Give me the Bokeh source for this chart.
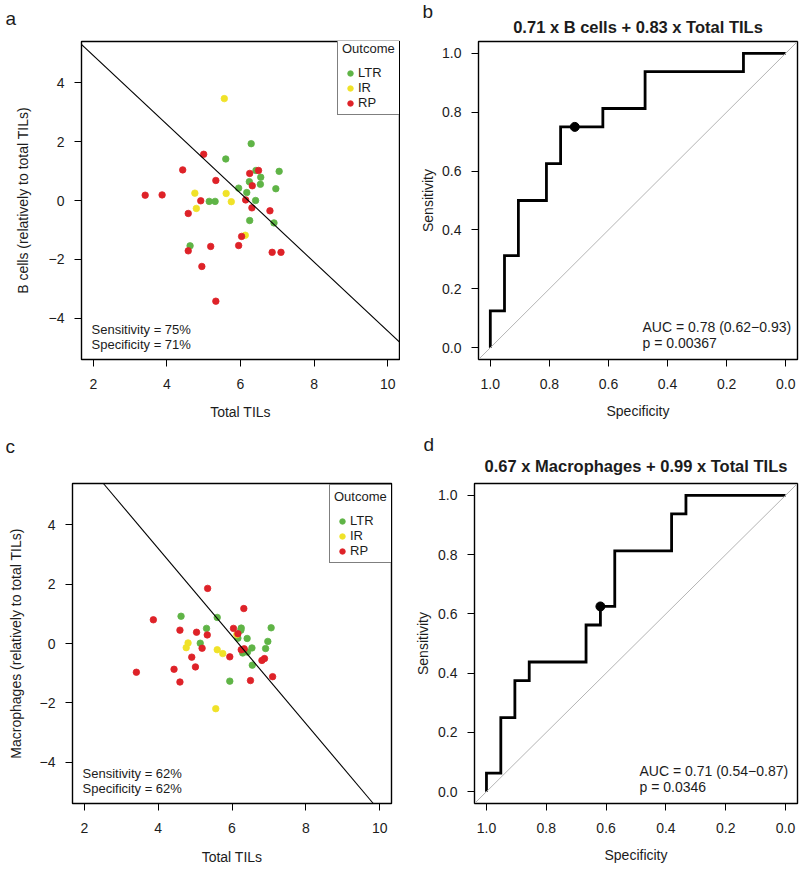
from bokeh.plotting import figure
from bokeh.models import Range1d, FixedTicker, PrintfTickFormatter, Slope, Label, Legend, LegendItem, Title
from bokeh.layouts import column, row
from bokeh.embed import file_html
from bokeh.resources import INLINE

# ---------------- data ----------------
# Panel a: Total TILs vs B cells (relative to total TILs)
a_ltr_x = [6.29, 5.60, 6.42, 7.05, 6.55, 6.24, 6.54, 5.95, 6.96, 6.17, 5.15, 5.31, 6.41, 6.25, 6.91, 4.63]
a_ltr_y = [1.93, 1.41, 1.02, 0.99, 0.79, 0.64, 0.55, 0.42, 0.40, 0.27, -0.03, -0.03, 0.00, -0.68, -0.76, -1.54]
a_ir_x = [5.56, 4.76, 5.61, 5.75, 4.80, 6.13]
a_ir_y = [3.46, 0.25, 0.24, -0.04, -0.27, -1.18]
a_rp_x = [5.00, 4.43, 6.49, 6.25, 5.33, 6.32, 4.92, 6.14, 6.31, 6.80, 4.58, 6.03, 5.95, 5.19, 3.41, 3.87, 4.58, 6.86, 7.10, 4.95, 5.33]
a_rp_y = [1.57, 1.04, 1.02, 0.92, 0.68, 0.50, -0.01, 0.02, -0.25, -0.35, -0.44, -1.22, -1.53, -1.56, 0.18, 0.19, -1.71, -1.76, -1.76, -2.24, -3.42]

# Panel c: Total TILs vs Macrophages (relative to total TILs)
c_ltr_x = [4.62, 5.60, 5.31, 6.25, 6.24, 7.06, 6.16, 6.41, 6.97, 5.14, 6.54, 6.91, 6.29, 6.42, 6.55, 5.94]
c_ltr_y = [0.92, 0.88, 0.51, 0.52, 0.45, 0.53, 0.18, 0.17, 0.07, 0.01, -0.15, -0.17, -0.32, -0.29, -0.73, -1.27]
c_ir_x = [4.81, 4.76, 5.60, 5.75, 6.13, 5.56]
c_ir_y = [0.02, -0.14, -0.21, -0.34, 0.30, -2.20]
c_rp_x = [5.34, 6.32, 3.87, 4.59, 5.04, 5.33, 6.04, 6.16, 5.19, 6.25, 6.33, 5.94, 4.91, 6.81, 6.88, 5.01, 4.43, 4.59, 6.50, 7.10, 3.41]
c_rp_y = [1.86, 1.18, 0.80, 0.45, 0.38, 0.29, 0.51, 0.33, -0.16, -0.21, -0.18, -0.45, -0.46, -0.57, -0.51, -0.79, -0.87, -1.30, -1.25, -1.12, -0.97]

# Linear combinations (coef on y variable, coef on Total TILs, cutoff)
a_coef = [0.71, 0.83]
a_cutoff = 5.155
c_coef = [0.67, 0.99]
c_cutoff = 6.11

# ROC curves (specificity, sensitivity)
b_spec = [1.0, 1.0, 0.952, 0.952, 0.905, 0.905, 0.810, 0.810, 0.762, 0.762, 0.619, 0.619, 0.476, 0.476, 0.143, 0.143, 0.0]
b_sens = [0.0, 0.125, 0.125, 0.3125, 0.3125, 0.5, 0.5, 0.625, 0.625, 0.75, 0.75, 0.8125, 0.8125, 0.9375, 0.9375, 1.0, 1.0]
b_best = [0.714, 0.75]
d_spec = [1.0, 1.0, 0.952, 0.952, 0.905, 0.905, 0.857, 0.857, 0.667, 0.667, 0.619, 0.619, 0.571, 0.571, 0.381, 0.381, 0.333, 0.333, 0.0]
d_sens = [0.0, 0.0625, 0.0625, 0.25, 0.25, 0.375, 0.375, 0.4375, 0.4375, 0.5625, 0.5625, 0.625, 0.625, 0.8125, 0.8125, 0.9375, 0.9375, 1.0, 1.0]
d_best = [0.619, 0.625]

scatter_ticks = [2, 4, 6, 8, 10]
scatter_yticks = [-4, -2, 0, 2, 4]
roc_ticks = [0.0, 0.2, 0.4, 0.6, 0.8, 1.0]

outcomes = ["LTR", "IR", "RP"]
colors = ["#5FB446", "#F0E228", "#DE2228"]

FONT = "Liberation Sans"
TXT = "#1c1c1c"


def make_fig(width, height, left, right, top, bottom, xr, yr):
    p = figure(width=width, height=height,
               min_border_left=left, min_border_right=right,
               min_border_top=top, min_border_bottom=bottom,
               x_range=Range1d(*xr), y_range=Range1d(*yr),
               output_backend="svg", toolbar_location=None, tools="")
    p.xgrid.visible = False
    p.ygrid.visible = False
    p.outline_line_color = "black"
    p.outline_line_width = 1.4
    p.outline_line_alpha = 1.0
    p.background_fill_color = "white"
    p.border_fill_color = "white"
    for ax in (p.xaxis[0], p.yaxis[0]):
        ax.axis_line_color = None
        ax.major_tick_line_color = "black"
        ax.major_tick_line_width = 1
        ax.major_tick_out = 7
        ax.major_tick_in = 0
        ax.minor_tick_line_color = None
        ax.major_label_text_font = FONT
        ax.major_label_text_font_size = "14px"
        ax.major_label_text_color = TXT
        ax.axis_label_text_font = FONT
        ax.axis_label_text_font_size = "14px"
        ax.axis_label_text_font_style = "normal"
        ax.axis_label_text_color = TXT
    p.xaxis[0].major_label_standoff = 12
    p.yaxis[0].major_label_standoff = 10
    return p


def style_title(t, text, size, bold, align, offset, standoff):
    t.text = text
    t.text_font = FONT
    t.text_font_size = size
    t.text_font_style = "bold" if bold else "normal"
    t.text_color = TXT
    t.align = align
    t.offset = offset
    t.standoff = standoff


def add_text(p, x, y, text, size="13px"):
    p.add_layout(Label(x=x, y=y, x_units="screen", y_units="screen", text=text,
                       text_font=FONT, text_font_size=size,
                       text_color=TXT, text_baseline="middle", text_align="left"))


def scatter_panel(dims, xs, ys, coef, cutoff, ylab, sens_txt, spec_txt,
                  letter, letter_off, spacer_standoff, ylab_standoff, xlab_standoff, legend_loc):
    p = make_fig(*dims, (1.68, 10.32), (-5.4, 5.4))
    # panel letter is the outer title; an empty spacer title sits between it and the frame
    style_title(p.title, letter, "19px", False, "left", letter_off, 0)
    sp = Title()
    style_title(sp, " ", "6px", False, "left", 0, spacer_standoff)
    p.add_layout(sp, "above")
    p.xaxis[0].ticker = FixedTicker(ticks=scatter_ticks)
    p.yaxis[0].ticker = FixedTicker(ticks=scatter_yticks)
    p.xaxis[0].axis_label = "Total TILs"
    p.yaxis[0].axis_label = ylab
    p.yaxis[0].axis_label_standoff = ylab_standoff
    p.xaxis[0].axis_label_standoff = xlab_standoff
    p.add_layout(Slope(gradient=-coef[1] / coef[0], y_intercept=cutoff / coef[0],
                       line_color="black", line_width=1.1))
    items = []
    for (x, y), name, col in zip(zip(xs, ys), outcomes, colors):
        r = p.scatter(x, y, size=6.5, fill_color=col, line_color=col, line_width=0.8)
        items.append(LegendItem(label=name, renderers=[r]))
    leg = Legend(items=items, title="Outcome", location=legend_loc,
                 title_text_font=FONT, title_text_font_size="13px", title_text_font_style="normal",
                 title_text_color=TXT, title_standoff=9,
                 label_text_font=FONT, label_text_font_size="13px", label_text_color=TXT,
                 label_standoff=0, label_height=14, glyph_height=14, glyph_width=16,
                 spacing=0, padding=4, margin=0,
                 border_line_color="black", border_line_width=1.3,
                 background_fill_color="white", background_fill_alpha=1.0)
    p.add_layout(leg)
    add_text(p, 10, 30, sens_txt)
    add_text(p, 10, 15, spec_txt)
    return p


def roc_panel(dims, spec, sens, best, title, title_standoff, auc_txt, p_txt,
              letter, letter_off, letter_standoff, ylab_standoff, xlab_standoff, txt_x):
    p = make_fig(*dims, (1.04, -0.04), (-0.04, 1.04))
    p.xaxis[0].ticker = FixedTicker(ticks=roc_ticks)
    p.yaxis[0].ticker = FixedTicker(ticks=roc_ticks)
    p.xaxis[0].formatter = PrintfTickFormatter(format="%.1f")
    p.yaxis[0].formatter = PrintfTickFormatter(format="%.1f")
    p.xaxis[0].axis_label = "Specificity"
    p.yaxis[0].axis_label = "Sensitivity"
    p.yaxis[0].axis_label_standoff = ylab_standoff
    p.xaxis[0].axis_label_standoff = xlab_standoff
    # panel letter as the (outer) plot title, bold formula as the inner title
    style_title(p.title, letter, "19px", False, "left", letter_off, letter_standoff)
    mt = Title()
    style_title(mt, title, "16.5px", True, "center", 0, title_standoff)
    p.add_layout(mt, "above")
    p.add_layout(Slope(gradient=-1, y_intercept=1, line_color="#b4b4b4", line_width=1))
    p.line(spec, sens, line_color="black", line_width=2.8, line_join="miter")
    p.scatter([best[0]], [best[1]], size=9, fill_color="black", line_color="black")
    add_text(p, txt_x, 33, auc_txt, size="14px")
    add_text(p, txt_x, 17, p_txt, size="14px")
    return p


# dims = (width, height, border_left, border_right, border_top, border_bottom)
pa = scatter_panel((400, 422, 81, 1, 40, 63),
                   (a_ltr_x, a_ir_x, a_rp_x), (a_ltr_y, a_ir_y, a_rp_y), a_coef, a_cutoff,
                   "B cells (relatively to total TILs)", "Sensitivity = 75%", "Specificity = 71%",
                   "a", -76, 5.3, 15, 12, (256, 244))
pb = roc_panel((400, 422, 78, 3, 41, 62), b_spec, b_sens, b_best,
               "0.71 x B cells + 0.83 x Total TILs", 11, "AUC = 0.78 (0.62\u22120.93)", "p = 0.00367",
               "b", -56, -22.5, 3, 11, 164)
pc = scatter_panel((400, 448, 72, 9, 61, 67),
                   (c_ltr_x, c_ir_x, c_rp_x), (c_ltr_y, c_ir_y, c_rp_y), c_coef, c_cutoff,
                   "Macrophages (relatively to total TILs)", "Sensitivity = 62%", "Specificity = 62%",
                   "c", -67, 18.8, 13, 13, (257, 240))
pd = roc_panel((400, 448, 74, 3, 61, 64), d_spec, d_sens, d_best,
               "0.67 x Macrophages + 0.99 x Total TILs", 17, "AUC = 0.71 (0.54\u22120.87)", "p = 0.0346",
               "d", -51, -17.8, 4, 11, 165)

layout = column(row(pa, pb), row(pc, pd))

open("out.html", "w").write(file_html(layout, INLINE))
